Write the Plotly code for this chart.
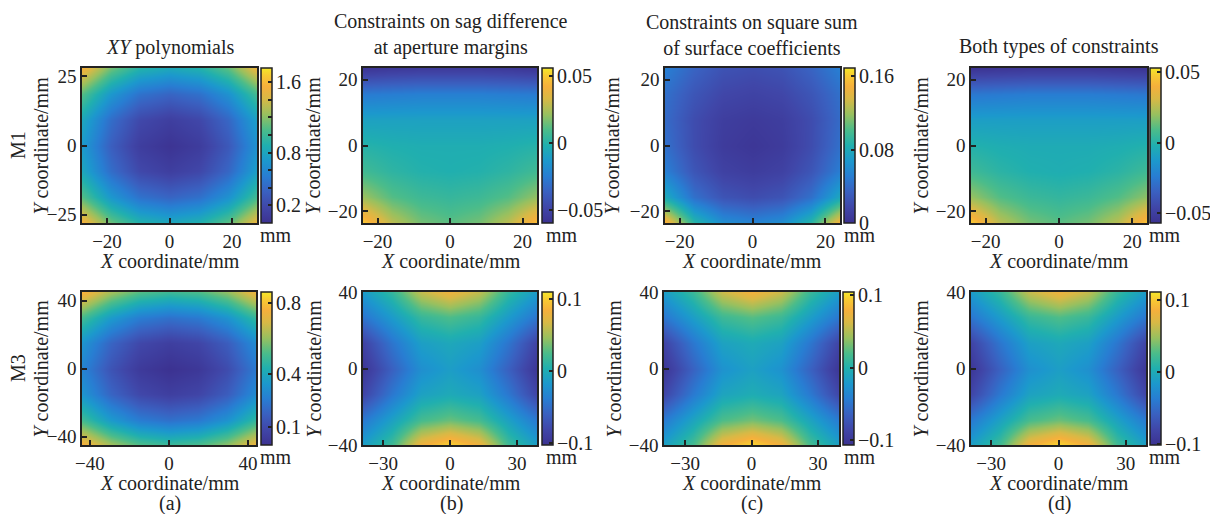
import plotly.graph_objects as go

W, H = 1210, 514
FONT = "Liberation Serif"
TXT = "#222222"

# ---------------- data ----------------
# M1, XY polynomials
A1_X = [-28, -18.7, -9.3, 0, 9.3, 18.7, 28]
A1_Y = [-28, -18.7, -9.3, 0, 9.3, 18.7, 28]
A1_Z = [
    [1.56, 1.14, 0.90, 0.82, 0.89, 1.10, 1.50],
    [1.08, 0.70, 0.46, 0.38, 0.45, 0.66, 1.03],
    [0.81, 0.43, 0.19, 0.11, 0.18, 0.39, 0.76],
    [0.72, 0.34, 0.10, 0.02, 0.09, 0.30, 0.67],
    [0.81, 0.43, 0.19, 0.11, 0.18, 0.39, 0.76],
    [1.08, 0.70, 0.46, 0.38, 0.45, 0.66, 1.03],
    [1.56, 1.14, 0.90, 0.82, 0.89, 1.10, 1.50],
]
# M1, constraints on sag difference
B1_X = [-24, -16, -8, 0, 8, 16, 24]
B1_Y = [-23.5, -15.7, -7.8, 0, 7.8, 15.7, 23.5]
B1_Z = [
    [0.050, 0.028, 0.016, 0.012, 0.016, 0.028, 0.048],
    [0.022, 0.011, 0.006, 0.004, 0.006, 0.011, 0.021],
    [0.007, 0.002, -0.001, -0.002, -0.001, 0.002, 0.007],
    [0.000, -0.002, -0.003, -0.003, -0.003, -0.002, 0.000],
    [-0.009, -0.009, -0.009, -0.009, -0.009, -0.009, -0.009],
    [-0.026, -0.025, -0.024, -0.024, -0.024, -0.025, -0.026],
    [-0.058, -0.056, -0.055, -0.055, -0.055, -0.056, -0.058],
]
# M1, constraints on square sum
C1_X = [-24, -16, -8, 0, 8, 16, 24]
C1_Y = [-23.5, -15.7, -7.8, 0, 7.8, 15.7, 23.5]
C1_Z = [
    [0.155, 0.090, 0.062, 0.055, 0.062, 0.090, 0.150],
    [0.080, 0.043, 0.026, 0.021, 0.026, 0.043, 0.078],
    [0.052, 0.027, 0.013, 0.009, 0.013, 0.027, 0.051],
    [0.043, 0.021, 0.008, 0.004, 0.008, 0.021, 0.043],
    [0.040, 0.021, 0.010, 0.007, 0.010, 0.021, 0.040],
    [0.043, 0.027, 0.017, 0.014, 0.017, 0.027, 0.043],
    [0.052, 0.036, 0.025, 0.022, 0.025, 0.036, 0.052],
]
# M1, both constraints
D1_X = [-24, -16, -8, 0, 8, 16, 24]
D1_Y = [-23.5, -15.7, -7.8, 0, 7.8, 15.7, 23.5]
D1_Z = [
    [0.048, 0.026, 0.015, 0.011, 0.015, 0.026, 0.047],
    [0.020, 0.010, 0.005, 0.003, 0.005, 0.010, 0.019],
    [0.006, 0.001, -0.002, -0.003, -0.002, 0.001, 0.006],
    [-0.001, -0.003, -0.004, -0.004, -0.004, -0.003, -0.001],
    [-0.010, -0.010, -0.010, -0.010, -0.010, -0.010, -0.010],
    [-0.026, -0.025, -0.024, -0.024, -0.024, -0.025, -0.026],
    [-0.056, -0.055, -0.054, -0.054, -0.054, -0.055, -0.056],
]
# M3, XY polynomials
A3_X = [-44, -29.3, -14.7, 0, 14.7, 29.3, 44]
A3_Y = [-45, -30, -15, 0, 15, 30, 45]
A3_Z = [
    [0.77, 0.62, 0.525, 0.49, 0.515, 0.595, 0.74],
    [0.50, 0.35, 0.255, 0.22, 0.245, 0.325, 0.47],
    [0.335, 0.185, 0.09, 0.055, 0.08, 0.16, 0.305],
    [0.28, 0.13, 0.035, 0.00, 0.025, 0.105, 0.25],
    [0.335, 0.185, 0.09, 0.055, 0.08, 0.16, 0.305],
    [0.50, 0.35, 0.255, 0.22, 0.245, 0.325, 0.47],
    [0.77, 0.62, 0.525, 0.49, 0.515, 0.595, 0.74],
]
# M3, constraints on sag difference
B3_X = [-39, -26, -13, 0, 13, 26, 39]
B3_Y = [-40, -26.7, -13.3, 0, 13.3, 26.7, 40]
B3_Z = [
    [-0.012, 0.020, 0.082, 0.104, 0.082, 0.020, -0.012],
    [-0.042, -0.010, 0.022, 0.033, 0.022, -0.010, -0.042],
    [-0.083, -0.043, -0.010, -0.002, -0.010, -0.043, -0.083],
    [-0.098, -0.060, -0.025, -0.013, -0.025, -0.060, -0.098],
    [-0.085, -0.045, -0.012, -0.004, -0.012, -0.045, -0.085],
    [-0.045, -0.015, 0.015, 0.025, 0.015, -0.015, -0.045],
    [-0.015, 0.014, 0.060, 0.080, 0.060, 0.014, -0.015],
]
# M3, constraints on square sum
C3_X = [-39.5, -26.3, -13.2, 0, 13.2, 26.3, 39.5]
C3_Y = [-40, -26.7, -13.3, 0, 13.3, 26.7, 40]
C3_Z = [
    [-0.015, 0.018, 0.078, 0.100, 0.078, 0.018, -0.015],
    [-0.045, -0.012, 0.020, 0.031, 0.020, -0.012, -0.045],
    [-0.086, -0.046, -0.012, -0.004, -0.012, -0.046, -0.086],
    [-0.102, -0.063, -0.027, -0.015, -0.027, -0.063, -0.102],
    [-0.088, -0.048, -0.014, -0.006, -0.014, -0.048, -0.088],
    [-0.048, -0.017, 0.013, 0.023, 0.013, -0.017, -0.048],
    [-0.018, 0.012, 0.058, 0.078, 0.058, 0.012, -0.018],
]
# M3, both constraints
D3_X = [-39, -26, -13, 0, 13, 26, 39]
D3_Y = [-40, -26.7, -13.3, 0, 13.3, 26.7, 40]
D3_Z = [
    [-0.010, 0.022, 0.085, 0.108, 0.085, 0.022, -0.010],
    [-0.040, -0.008, 0.024, 0.035, 0.024, -0.008, -0.040],
    [-0.081, -0.041, -0.008, 0.000, -0.008, -0.041, -0.081],
    [-0.096, -0.058, -0.023, -0.011, -0.023, -0.058, -0.096],
    [-0.083, -0.043, -0.010, -0.002, -0.010, -0.043, -0.083],
    [-0.043, -0.013, 0.017, 0.027, 0.017, -0.013, -0.043],
    [-0.013, 0.016, 0.062, 0.082, 0.062, 0.016, -0.013],
]

COL_TITLES = ["<i>XY</i> polynomials",
              "Constraints on sag difference<br>at aperture margins",
              "Constraints on square sum<br>of surface coefficients",
              "Both types of constraints"]
ROW_LABELS = ["M1", "M3"]
PANEL_TAGS = ["(a)", "(b)", "(c)", "(d)"]

# colour limits and colourbar ticks per panel
ZLIM = {
    "A1": (0.0, 1.76), "B1": (-0.060, 0.056), "C1": (0.0, 0.169), "D1": (-0.057, 0.053),
    "A3": (0.0, 0.86), "B3": (-0.103, 0.110), "C3": (-0.107, 0.1046), "D3": (-0.102, 0.1116),
}
CB_TICKS = {
    "A1": ([0.2, 0.4, 0.6, 0.8, 1.0, 1.2, 1.4, 1.6], ["0.2", "", "", "0.8", "", "", "", "1.6"]),
    "B1": ([-0.05, 0, 0.05], ["−0.05", "0", "0.05"]),
    "C1": ([0, 0.08, 0.16], ["0", "0.08", "0.16"]),
    "D1": ([-0.05, 0, 0.05], ["−0.05", "0", "0.05"]),
    "A3": ([0.1, 0.4, 0.8], ["0.1", "0.4", "0.8"]),
    "B3": ([-0.1, 0, 0.1], ["−0.1", "0", "0.1"]),
    "C3": ([-0.1, 0, 0.1], ["−0.1", "0", "0.1"]),
    "D3": ([-0.1, 0, 0.1], ["−0.1", "0", "0.1"]),
}
AX_TICKS = {
    "A1": ([-20, 0, 20], [-25, 0, 25]),
    "B1": ([-20, 0, 20], [-20, 0, 20]),
    "C1": ([-20, 0, 20], [-20, 0, 20]),
    "D1": ([-20, 0, 20], [-20, 0, 20]),
    "A3": ([-40, 0, 40], [-40, 0, 40]),
    "B3": ([-30, 0, 30], [-40, 0, 40]),
    "C3": ([-30, 0, 30], [-40, 0, 40]),
    "D3": ([-30, 0, 30], [-40, 0, 40]),
}
DATA = {
    "A1": (A1_X, A1_Y, A1_Z), "B1": (B1_X, B1_Y, B1_Z), "C1": (C1_X, C1_Y, C1_Z), "D1": (D1_X, D1_Y, D1_Z),
    "A3": (A3_X, A3_Y, A3_Z), "B3": (B3_X, B3_Y, B3_Z), "C3": (C3_X, C3_Y, C3_Z), "D3": (D3_X, D3_Y, D3_Z),
}

# ---------------- style ----------------
# muted parula-like colour scale, as it appears in the reference
COLORSCALE = [
    [0.00, "rgb(60,50,145)"],
    [0.10, "rgb(64,70,168)"],
    [0.20, "rgb(58,96,192)"],
    [0.30, "rgb(40,125,210)"],
    [0.40, "rgb(28,152,205)"],
    [0.50, "rgb(32,175,175)"],
    [0.60, "rgb(75,188,138)"],
    [0.70, "rgb(152,192,95)"],
    [0.80, "rgb(215,185,70)"],
    [0.88, "rgb(245,176,60)"],
    [0.95, "rgb(248,202,50)"],
    [1.00, "rgb(245,232,40)"],
]

# pixel layout: plot boxes (x0, x1, y0, y1) and colourbar left edges
BOX = {
    "A1": (82, 257, 68, 223), "B1": (363, 537, 68, 223), "C1": (665, 840, 68, 223), "D1": (971, 1147, 68, 223),
    "A3": (82, 256, 292, 445), "B3": (363, 537, 292, 445), "C3": (664, 839, 292, 445), "D3": (971, 1146, 292, 445),
}
CB_X = {"A1": 261, "B1": 542, "C1": 844, "D1": 1150, "A3": 261, "B3": 542, "C3": 843, "D3": 1150}
CB_W = 11
XT_CX = [170, 451, 752, 1059]
YT_CX = {"A1": 40, "B1": 312, "C1": 611, "D1": 920, "A3": 40, "B3": 313, "C3": 613, "D3": 920}
MM_CX = [276, 562, 860, 1165]


def px(x):
    return x / W


def py(y):
    return 1 - y / H


fig = go.Figure()
annotations = []
keys = [["A1", "B1", "C1", "D1"], ["A3", "B3", "C3", "D3"]]
n = 0
for r, row in enumerate(keys):
    for c, k in enumerate(row):
        n += 1
        xs, ys, zs = DATA[k]
        x0, x1, y0, y1 = BOX[k]
        xa = "xaxis" if n == 1 else "xaxis%d" % n
        ya = "yaxis" if n == 1 else "yaxis%d" % n
        tv, tt = CB_TICKS[k]
        zmin, zmax = ZLIM[k]
        fig.add_trace(go.Heatmap(
            x=xs, y=ys, z=zs, zsmooth="best", colorscale=COLORSCALE,
            zmin=zmin, zmax=zmax, hoverinfo="skip",
            xaxis="x" if n == 1 else "x%d" % n, yaxis="y" if n == 1 else "y%d" % n,
            colorbar=dict(
                x=px(CB_X[k]), xanchor="left", xpad=0, ypad=0,
                y=py((y0 + y1) / 2), yanchor="middle",
                lenmode="pixels", len=y1 - y0, thicknessmode="pixels", thickness=CB_W,
                outlinewidth=1.5, outlinecolor=TXT,
                tickmode="array", tickvals=tv, showticklabels=False,
                ticks="inside", ticklen=4, tickwidth=1.5, tickcolor=TXT,
            ),
        ))
        # colourbar tick labels, placed tight against the bar like the reference
        for v, t in zip(tv, tt):
            if not t:
                continue
            yy = y1 - (v - zmin) / (zmax - zmin) * (y1 - y0)
            annotations.append(dict(text=t, x=px(CB_X[k] + CB_W + 2), y=py(yy),
                                    xref="paper", yref="paper", showarrow=False,
                                    xanchor="left", yanchor="middle",
                                    font=dict(family=FONT, size=20, color=TXT)))
        xtv, ytv = AX_TICKS[k]
        common = dict(showline=True, linecolor=TXT, linewidth=1.5, mirror=True,
                      ticks="inside", ticklen=5, tickwidth=1.5, tickcolor=TXT,
                      showgrid=False, zeroline=False, automargin=False,
                      tickfont=dict(family=FONT, size=19, color=TXT))
        fig.layout[xa] = dict(domain=[px(x0), px(x1)], range=[xs[0], xs[-1]],
                              anchor="y" if n == 1 else "y%d" % n,
                              tickmode="array", tickvals=xtv, **common)
        fig.layout[ya] = dict(domain=[py(y1), py(y0)], range=[ys[0], ys[-1]],
                              anchor="x" if n == 1 else "x%d" % n,
                              tickmode="array", tickvals=ytv, **common)
        # axis titles
        annotations.append(dict(text="<i>X</i> coordinate/mm", x=px(XT_CX[c]), y=py(y1 + 38),
                                xref="paper", yref="paper", showarrow=False,
                                xanchor="center", yanchor="middle"))
        annotations.append(dict(text="<i>Y</i> coordinate/mm", x=px(YT_CX[k]), y=py((y0 + y1) / 2),
                                xref="paper", yref="paper", showarrow=False, textangle=-90,
                                xanchor="center", yanchor="middle"))
        annotations.append(dict(text="mm", x=px(MM_CX[c]), y=py(y1 + 12),
                                xref="paper", yref="paper", showarrow=False,
                                xanchor="center", yanchor="middle"))

# column titles
title_y = [47, 35, 35, 46]
for c, t in enumerate(COL_TITLES):
    annotations.append(dict(text=t, x=px(XT_CX[c]), y=py(title_y[c]), xref="paper", yref="paper",
                            showarrow=False, xanchor="center", yanchor="middle"))
# row labels
for r, lab in enumerate(ROW_LABELS):
    annotations.append(dict(text=lab, x=px(18), y=py([145, 368][r]), xref="paper", yref="paper",
                            showarrow=False, textangle=-90, xanchor="center", yanchor="middle"))
# panel tags
for c, t in enumerate(PANEL_TAGS):
    annotations.append(dict(text=t, x=px(XT_CX[c]), y=py(503), xref="paper", yref="paper",
                            showarrow=False, xanchor="center", yanchor="middle"))

fig.update_layout(
    width=W, height=H, margin=dict(l=0, r=0, t=0, b=0, pad=0, autoexpand=False),
    paper_bgcolor="white", plot_bgcolor="white",
    font=dict(family=FONT, size=20, color=TXT),
    annotations=annotations, showlegend=False,
)
fig.write_html("out.html", config={"displayModeBar": False},
               post_script="document.body.style.margin='0px';")
